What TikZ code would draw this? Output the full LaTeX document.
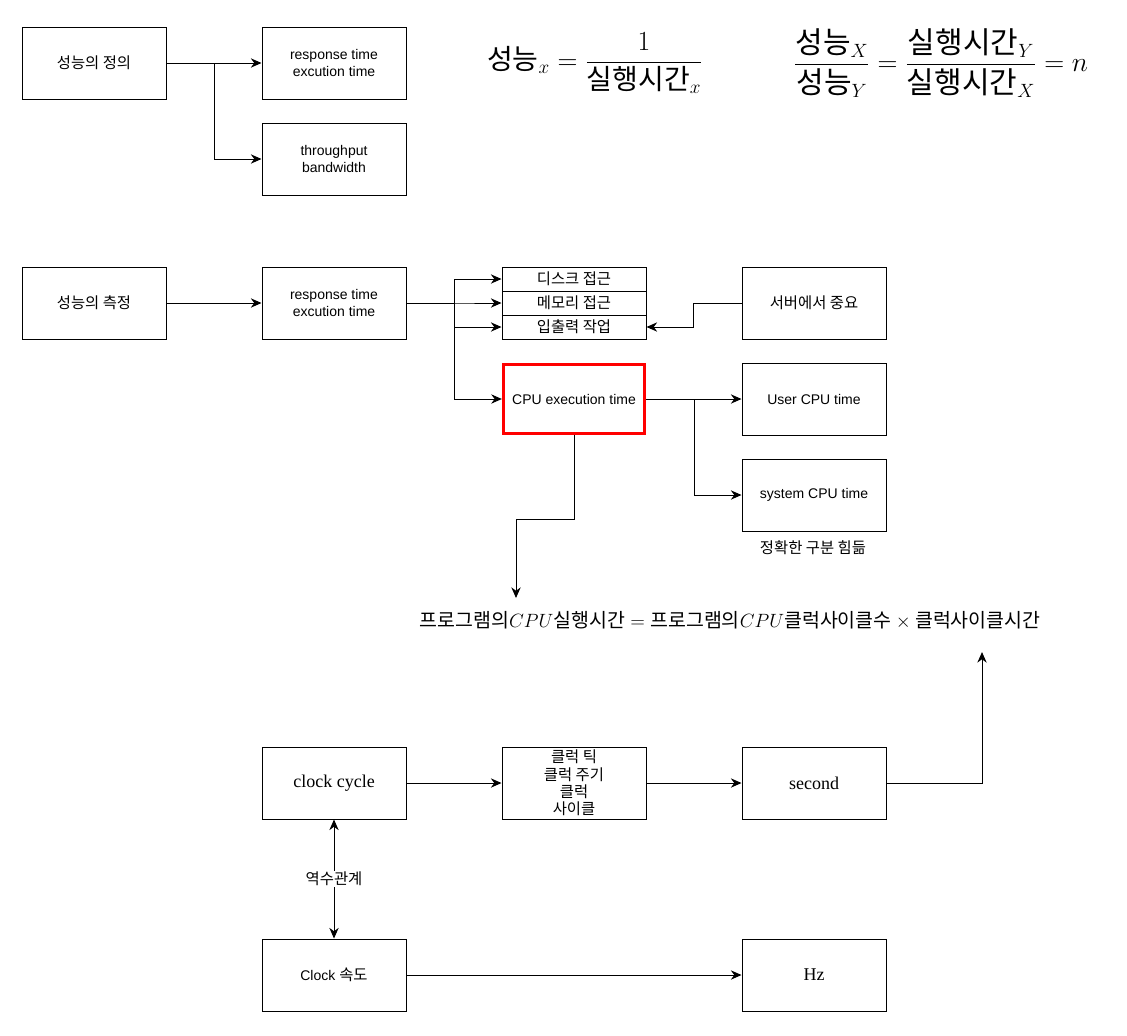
\documentclass[tikz,border=0pt]{standalone}
\usepackage{fontspec}
\usepackage{amsmath}
\setmainfont{Liberation Sans}
\newfontfamily\kr[Scale=1.1]{Noto Sans CJK KR}
\newfontfamily\krm{Noto Sans CJK KR}
\newfontfamily\serifnum{Liberation Serif}
\usetikzlibrary{arrows.meta,calc}
\begin{document}
\begin{tikzpicture}[x=0.75pt,y=-0.75pt,
  box/.style={draw,line width=0.75pt,minimum width=108pt,minimum height=54pt,inner sep=0pt,align=center,font=\fontsize{10.5}{12.5}\selectfont},
  rowbox/.style={draw,line width=0.75pt,minimum width=108pt,minimum height=18pt,inner sep=0pt,font=\fontsize{10.5}{12}\selectfont\kr},
  redbox/.style={box,draw=red,line width=2.25pt,minimum width=106pt,minimum height=52pt},
  serifbox/.style={box,font=\fontsize{13.5}{15}\selectfont\serifnum},
  arr/.style={-{Stealth[length=8pt,width=7pt]},line width=0.75pt},
  darr/.style={{Stealth[length=8pt,width=7pt]}-{Stealth[length=8pt,width=7pt]},line width=0.75pt},
  plain/.style={inner sep=0pt,align=center,font=\fontsize{10.5}{12.5}\selectfont}]
\useasboundingbox (0,0) rectangle (1127,1035);

% top section
\node[box] (def) at (94,63) {\kr 성능의 정의};
\node[box] (rt1) at (334,63) {response time\\excution time};
\node[box] (tp) at (334,159) {throughput\\bandwidth};
\node[plain,font=\fontsize{21}{25}\selectfont] (f1) at (595,63)
  {$\text{\krm 성능}_x = \dfrac{1}{\text{\krm 실행시간}_x}$};
\node[plain,font=\fontsize{22.5}{27}\selectfont] (f2) at (941,63)
  {$\dfrac{\text{\krm 성능}_X}{\text{\krm 성능}_Y} = \dfrac{\text{\krm 실행시간}_Y}{\text{\krm 실행시간}_X} = n$};

\draw[arr] (def) -- (rt1);
\draw[arr] (def.east) -- ++(48,0) |- (tp.west);

% measurement section
\node[box] (meas) at (94,303) {\kr 성능의 측정};
\node[box] (rt2) at (334,303) {response time\\excution time};
\node[rowbox] (disk) at (574,279) {디스크 접근};
\node[rowbox] (mem) at (574,303) {메모리 접근};
\node[rowbox] (io) at (574,327) {입출력 작업};
\node[box] (srv) at (814,303) {\kr 서버에서 중요};
\node[redbox] (cpu) at (574,399) {CPU execution time};
\node[box] (user) at (814,399) {User CPU time};
\node[box] (sys) at (814,495) {system CPU time};
\node[plain] (note) at (813,548) {\kr 정확한 구분 힘듦};

\draw[arr] (meas) -- (rt2);
\draw[arr] (rt2.east) -- ++(48,0) |- (disk.west);
\draw[arr] (rt2.east) -- ++(48,0) |- (mem.west);
\draw[arr] (rt2.east) -- ++(48,0) |- (io.west);
\draw[arr] (rt2.east) -- ++(48,0) |- (cpu.west);
\draw[arr] (srv.west) -- ++(-48,0) |- (io.east);
\draw[arr] (cpu) -- (user);
\draw[arr] (cpu.east) -- ++(48,0) |- (sys.west);

% main formula
\node[plain,font=\fontsize{14.6}{17}\selectfont] (form) at (730,620)
  {$\text{\krm 프로그램의}CPU\text{\krm 실행시간} = \text{\krm 프로그램의}CPU\text{\krm 클럭사이클수} \times \text{\krm 클럭사이클시간}$};
\coordinate (formin) at (516,598);
\coordinate (formin2) at (982,652);
\draw[arr] (cpu.south) -- ++(0,84) -| (formin);

% clock section
\node[serifbox] (cc) at (334,783) {clock cycle};
\node[box,font=\fontsize{10.5}{13}\selectfont\kr] (tick) at (574,783) {클럭 틱\\클럭 주기\\클럭\\사이클};
\node[serifbox] (sec) at (814,783) {second};
\node[box] (spd) at (334,975) {Clock {\kr 속도}};
\node[serifbox] (hz) at (814,975) {Hz};

\draw[arr] (cc) -- (tick);
\draw[arr] (tick) -- (sec);
\draw[arr] (sec.east) -| (formin2);
\draw[darr] (cc) -- node[fill=white,inner sep=1pt,font=\fontsize{10.5}{12}\selectfont\kr] (inv) {역수관계} (spd);
\draw[arr] (spd) -- (hz);
\end{tikzpicture}
\end{document}
